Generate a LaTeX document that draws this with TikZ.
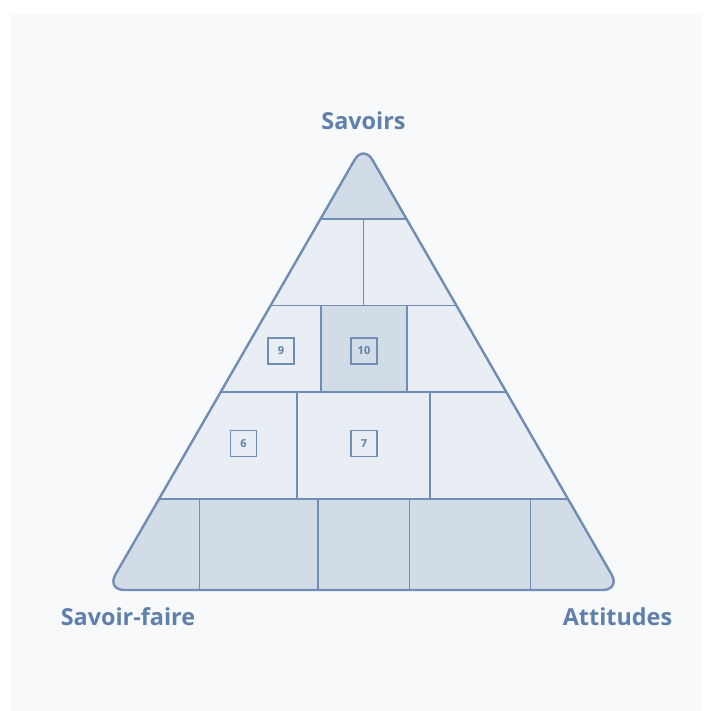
\documentclass[tikz,border=0pt]{standalone}
\usepackage{fontspec}
\setmainfont{Open Sans}
\definecolor{panelbg}{HTML}{F8F9FB}
\definecolor{edgecol}{HTML}{6F8DB5}
\definecolor{txtcol}{HTML}{5F80AD}
\definecolor{darkfill}{HTML}{D2DCE7}
\definecolor{lightfill}{HTML}{E9EEF5}
\tikzset{
  lbl/.style={font=\fontsize{23.4}{27}\selectfont\bfseries, text=txtcol, inner sep=0pt, anchor=base},
  numbox/.style={draw=edgecol, line width=1.8pt, minimum size=26pt, inner sep=0pt, text=txtcol, font=\fontsize{11}{13}\selectfont\bfseries},
  inner/.style={draw=edgecol, line width=1.6pt},
  outline/.style={draw=edgecol, line width=2.4pt, rounded corners=18pt, line join=round}
}
\begin{document}
\begin{tikzpicture}[x=1pt,y=-1pt]
\useasboundingbox (0,0) rectangle (703,711);
\fill[white] (0,0) rectangle (703,711);
\fill[panelbg] (11,14) rectangle (702,711);
\def\tripath{(363.5,590) -- (106.5,590) -- (363.5,144.4) -- (620.5,590) -- cycle}
\begin{scope}
  \clip[rounded corners=18pt] \tripath;
  \fill[lightfill] (0,0) rectangle (703,711);
  \fill[darkfill] (0,0) rectangle (703,219);
  \fill[darkfill] (0,499) rectangle (703,711);
  \fill[darkfill] (320.7,305.5) rectangle (406.7,391.7);
  \draw[inner] (0,219) -- (703,219);
  \draw[inner] (0,305.5) -- (703,305.5);
  \draw[inner] (0,391.7) -- (703,391.7);
  \draw[inner] (0,499) -- (703,499);
  \draw[inner] (363.5,219) -- (363.5,305.5);
  \draw[inner] (320.7,305.5) -- (320.7,391.7);
  \draw[inner] (406.7,305.5) -- (406.7,391.7);
  \draw[inner] (297,391.7) -- (297,499);
  \draw[inner] (430,391.7) -- (430,499);
  \draw[inner] (199.3,499) -- (199.3,600);
  \draw[inner] (318,499) -- (318,600);
  \draw[inner] (409.5,499) -- (409.5,600);
  \draw[inner] (530.5,499) -- (530.5,600);
\end{scope}
\draw[outline] \tripath;
\node[numbox] (n9) at (281,351) {9};
\node[numbox] (n10) at (364,351) {10};
\node[numbox] (n6) at (243.5,443.5) {6};
\node[numbox] (n7) at (364,443.5) {7};
\node[lbl] (savoirs) at (363.5,130) {Savoirs};
\node[lbl] (savoirfaire) at (128,625.5) {Savoir-faire};
\node[lbl] (attitudes) at (617.5,625.5) {Attitudes};
\end{tikzpicture}
\end{document}
